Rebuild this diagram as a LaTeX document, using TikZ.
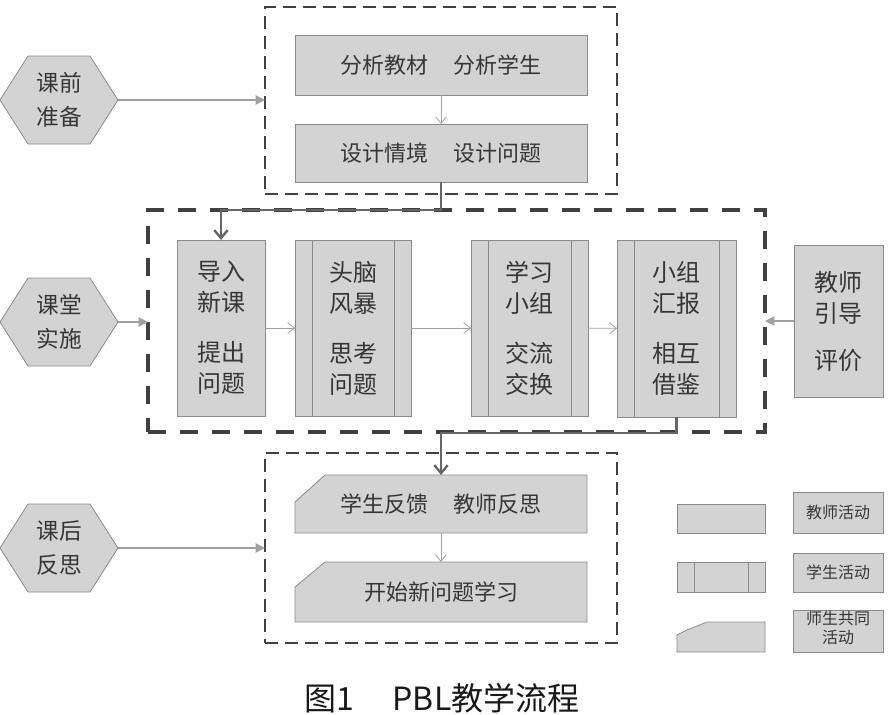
\documentclass[tikz,border=0pt]{standalone}
\usepackage{fontspec}
\setmainfont{Noto Sans CJK SC}
\usetikzlibrary{arrows.meta,calc,backgrounds,fit}
\definecolor{boxfill}{HTML}{D3D3D3}
\definecolor{boxline}{HTML}{8A8A8A}
\definecolor{txt}{HTML}{363636}
\definecolor{dashc}{HTML}{404040}
\definecolor{thinc}{HTML}{A0A0A0}
\definecolor{thickc}{HTML}{666666}
\begin{document}
\begin{tikzpicture}[x=0.75pt,y=-0.75pt,
  every node/.style={inner sep=0pt, outer sep=0pt, text=txt},
  tbox/.style={draw=boxline, fill=boxfill, line width=0.6pt},
  chbox/.style={draw=boxline, fill=boxfill, line width=0.6pt},
  hexbox/.style={draw=boxline, fill=boxfill, line width=0.6pt},
  dbox/.style={draw=dashc, line width=1pt, dash pattern=on 9.75pt off 5.25pt},
  dboxthick/.style={draw=dashc, line width=2.4pt, dash pattern=on 13.5pt off 10.5pt},
  thinarrow/.style={draw=thinc, line width=0.6pt, -{Straight Barb[length=5pt,width=8pt]}},
  grayarrow/.style={draw=thinc, line width=0.8pt, -{Triangle[length=7pt,width=7pt]}},
  thickarrow/.style={draw=thickc, line width=1.8pt, -{Straight Barb[length=6pt,width=10pt]}},
  bigfont/.style={font=\fontsize{18}{23.25}\selectfont, align=center},
  midfont/.style={font=\fontsize{16.5}{20}\selectfont, align=center},
  hexfont/.style={font=\fontsize{17}{25.5}\selectfont, align=center},
  legfont/.style={font=\fontsize{12}{14.25}\selectfont, align=center},
  capfont/.style={font=\fontsize{24}{28}\selectfont, text=black!90}
]
\useasboundingbox (0,0) rectangle (892,714);

% ---------- hexagons ----------
\draw[hexbox] (0,100) -- (28,56) -- (90,56) -- (118,100) -- (90,144) -- (28,144) -- cycle;
\node[fit={(0,56) (118,144)}] (h1) {};
\node[hexfont] (h1t) at (h1) {课前\\准备};
\draw[hexbox] (0,322) -- (28,278) -- (90,278) -- (118,322) -- (90,366) -- (28,366) -- cycle;
\node[fit={(0,278) (118,366)}] (h2) {};
\node[hexfont] (h2t) at (h2) {课堂\\实施};
\draw[hexbox] (0,548) -- (28,504) -- (90,504) -- (118,548) -- (90,592) -- (28,592) -- cycle;
\node[fit={(0,504) (118,592)}] (h3) {};
\node[hexfont] (h3t) at (h3) {课后\\反思};

% ---------- top group ----------
\node[dbox, fit={(265,7) (617,194)}] (top) {};
\node[tbox, fit={(295,35) (587,95)}] (a1) {};
\node[midfont] (a1t) at (a1) {分析教材\hspace{1.1em}分析学生};
\node[tbox, fit={(295,124) (587,182)}] (a2) {};
\node[midfont] (a2t) at (a2) {设计情境\hspace{1.1em}设计问题};
\draw[thinarrow] (a1) -- (a2);
\draw[grayarrow] (h1.east) -- (h1.east -| top.west);

% ---------- middle group ----------
\node[dboxthick, fit={(148,210) (765,432)}] (mid) {};
\node[tbox, fit={(177,240) (265,416)}] (b1) {};
\node[tbox, fit={(295,240) (411,416)}] (b2) {};
\node[tbox, fit={(471,240) (588,416)}] (b3) {};
\node[tbox, fit={(617,240) (736,417)}] (b4) {};
\node[bigfont] (b1t) at (b1) {导入\\新课\\[14.25pt]提出\\问题};
\node[bigfont] (b2t) at (b2) {头脑\\风暴\\[14.25pt]思考\\问题};
\node[bigfont] (b3t) at (b3) {学习\\小组\\[14.25pt]交流\\交换};
\node[bigfont] (b4t) at (b4) {小组\\汇报\\[14.25pt]相互\\借鉴};
\foreach \n in {b2,b3,b4}{
  \draw[boxline, line width=0.6pt] ($(\n.north west)+(17,0)$) -- ($(\n.south west)+(17,0)$);
  \draw[boxline, line width=0.6pt] ($(\n.north east)+(-17,0)$) -- ($(\n.south east)+(-17,0)$);
}
\node[tbox, fit={(794,245) (883,397)}] (t1) {};
\node[bigfont] (t1t) at (t1) {教师\\引导\\[12pt]评价};
\draw[thinarrow] (b1) -- (b2);
\draw[thinarrow] (b2) -- (b3);
\draw[thinarrow] (b3) -- (b4);
\draw[grayarrow] (t1) -- (t1 -| mid.east);
\draw[grayarrow] (h2.east) -- (h2.east -| mid.west);
\draw[thickarrow] (a2.south) -- ++(0,28) -| (b1.north);

% ---------- bottom group ----------
\node[dbox, fit={(265,453) (617,643)}] (bot) {};
\node[fit={(295,475) (587,533)}] (c1) {};
\node[fit={(295,562) (587,622)}] (c2) {};
\begin{scope}[on background layer]
  \draw[chbox] (c1.south west) -- ($(c1.north west)+(0,27)$) -- ($(c1.north west)+(30,0)$) -- (c1.north east) -- (c1.south east) -- cycle;
  \draw[chbox] (c2.south west) -- ($(c2.north west)+(0,25)$) -- ($(c2.north west)+(30,0)$) -- (c2.north east) -- (c2.south east) -- cycle;
\end{scope}
\node[midfont] (c1t) at (c1) {学生反馈\hspace{1.1em}教师反思};
\node[midfont] (c2t) at (c2) {开始新问题学习};
\draw[thinarrow] (c1) -- (c2);
\draw[grayarrow] (h3.east) -- (h3.east -| bot.west);
\draw[thickarrow] (b4.south) -- ++(0,16) -| (c1.north);

% ---------- legend ----------
\node[tbox, fit={(677,504) (765,533)}] (l1) {};
\node[tbox, fit={(793,492) (883,533)}] (l1b) {};
\node[legfont] (l1t) at (l1b) {教师活动};
\node[tbox, fit={(677,562) (765,592)}] (l2) {};
\draw[boxline, line width=0.6pt] ($(l2.north west)+(17,0)$) -- ($(l2.south west)+(17,0)$);
\draw[boxline, line width=0.6pt] ($(l2.north east)+(-17,0)$) -- ($(l2.south east)+(-17,0)$);
\node[tbox, fit={(793,553) (883,592)}] (l2b) {};
\node[legfont] (l2t) at (l2b) {学生活动};
\node[fit={(677,622) (765,652)}] (l3) {};
\begin{scope}[on background layer]
  \draw[chbox] (l3.south west) -- ($(l3.north west)+(0,13)$) -- ($(l3.north west)+(10,8)$) -- ($(l3.north west)+(30,0)$) -- (l3.north east) -- (l3.south east) -- cycle;
\end{scope}
\node[tbox, fit={(793,610) (883,652)}] (l3b) {};
\node[legfont] (l3t) at ($(l3b.center)+(0,-3)$) {师生共同\\活动};

% ---------- caption ----------
\node[capfont] (cap) at (442,698) {图1\hspace{1.2em}PBL教学流程};
\end{tikzpicture}
\end{document}
